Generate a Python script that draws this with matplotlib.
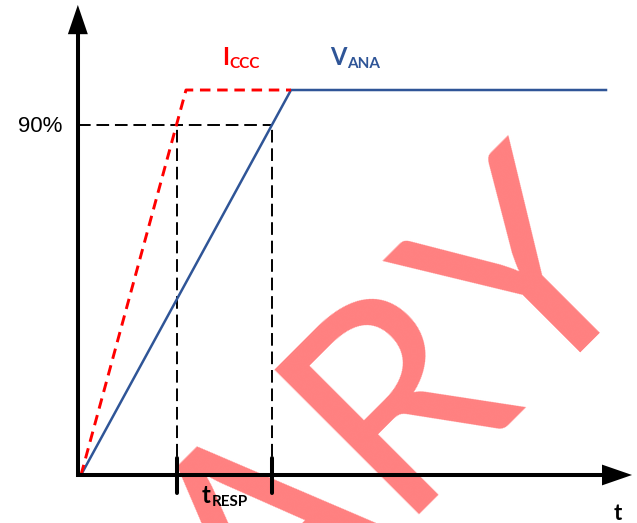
import matplotlib
matplotlib.use('Agg')
import matplotlib.pyplot as plt

# data (time in units of the I_CCC rise time, level as fraction of final value)
t_iccc = [0, 1, 2]
v_iccc = [0, 1, 1]
t_vana = [0, 2, 5]
v_vana = [0, 1, 1]
level_90 = 0.91
t_resp_start = 0.91
t_resp_end = 1.82

red = '#FF0000'
blue = '#2F5597'
label_font = 'Lato'

fig = plt.figure(figsize=(6.37, 5.23), dpi=100)
ax = fig.add_axes([0, 0, 1, 1])
ax.set_xlim(-0.7714, 5.2952)
ax.set_ylim(-0.1247, 1.2338)
ax.axis('off')

# watermark, under everything else
ax.text(1.015, 0.504, 'PRELIMINARY', transform=fig.transFigure, rotation=45,
        rotation_mode='anchor', ha='right', va='baseline', fontsize=206,
        family=label_font, color='#FF8080', zorder=0.5)

# axes with arrows
x0 = -0.03
x_end, x_tip, x_hw = 4.962, 5.248, 0.027
y_end, y_tip, y_hw = 1.145, 1.221, 0.095
ax.plot([x0 - 0.02, x_end], [0, 0], color='black', lw=2.9, solid_capstyle='butt', zorder=5)
ax.plot([x0, x0], [-0.005, y_end], color='black', lw=2.9, solid_capstyle='butt', zorder=5)
ax.fill([x_end, x_tip, x_end], [-x_hw, 0, x_hw], color='black', lw=0, zorder=5)
ax.fill([x0 - y_hw, x0, x0 + y_hw], [y_end, y_tip, y_end], color='black', lw=0, zorder=5)

# 90% guide lines
ax.plot([x0, t_resp_end], [level_90, level_90], color='black', lw=1.4,
        linestyle=(0, (6.5, 3)), zorder=3)
for tx in (t_resp_start, t_resp_end):
    ax.plot([tx, tx], [0, level_90], color='black', lw=1.4,
            linestyle=(0, (6.5, 3)), zorder=3)
    ax.plot([tx, tx], [-0.047, 0.044], color='black', lw=2.9,
            solid_capstyle='round', zorder=5)

# signals
ax.plot(t_vana, v_vana, color=blue, lw=1.8, zorder=4)
ax.plot(t_iccc, v_iccc, color=red, lw=2.1, linestyle=(0, (3.6, 2.3)), zorder=4)

# labels
ax.text(-0.181, 0.891, '90%', ha='right', va='baseline', fontsize=16,
        family='Liberation Sans', zorder=6)


def sub_label(x, y, main, sub, color, size=17, sub_size=11):
    t = ax.text(x, y, main, ha='left', va='baseline', fontsize=size,
                fontweight='bold', family=label_font, color=color, zorder=6)
    ax.annotate(sub, xy=(1, 0), xycoords=t, xytext=(0.5, 0.8),
                textcoords='offset points', ha='left', va='baseline',
                fontsize=sub_size, fontweight='bold', family=label_font,
                color=color, zorder=6)


sub_label(1.343, 1.065, 'I', 'CCC', red)
sub_label(2.371, 1.065, 'V', 'ANA', blue)
sub_label(1.152, -0.0727, 't', 'RESP', 'black')
ax.text(5.11, -0.117, 't', ha='center', va='baseline', fontsize=16,
        fontweight='bold', family=label_font, zorder=6)

fig.savefig('out.png', dpi=100)
